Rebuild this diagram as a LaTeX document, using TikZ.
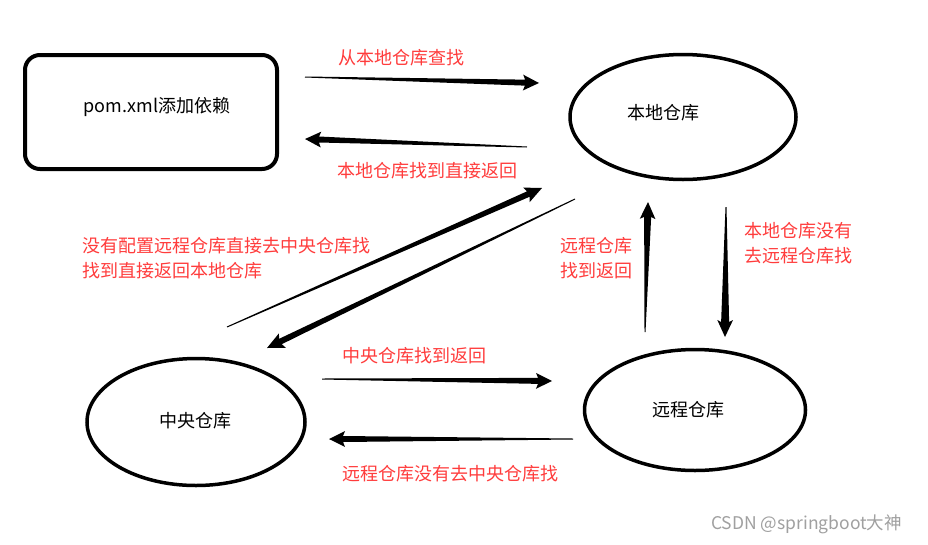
\documentclass[tikz,border=0pt]{standalone}
\usepackage{fontspec}
\setmainfont{Noto Sans CJK SC}
\usetikzlibrary{shapes.geometric,calc}
\definecolor{lblred}{RGB}{255,60,60}
\definecolor{wmgray}{RGB}{160,160,160}
\tikzset{
  store/.style={draw=black,line width=3.5pt,ellipse,inner sep=0pt},
  boxnode/.style={draw=black,line width=4pt,rounded corners=15pt,inner sep=0pt},
  blk/.style={font=\fontsize{18}{21}\selectfont,text=black,inner sep=0pt},
  red/.style={font=\fontsize{18}{25}\selectfont,text=lblred,inner sep=0pt,align=left},
  wm/.style={font=\fontsize{17.5}{20}\selectfont,text=wmgray,inner sep=0pt}
}
% tapered arrow: tail, tip, half shaft width at head, half wing width, head length
\newcommand\taper[5]{%
  \coordinate (tmpH) at ($(#2)!#5!(#1)$);
  \fill[black] ($(#1)!0.5pt!90:(#2)$) -- ($(tmpH)!#3!90:(#2)$) -- ($($(tmpH)!#4!90:(#2)$)!2pt!(#1)$)
    -- (#2) -- ($($(tmpH)!#4!-90:(#2)$)!2pt!(#1)$) -- ($(tmpH)!#3!-90:(#2)$) -- ($(#1)!0.5pt!-90:(#2)$) -- cycle;}
\begin{document}
\begin{tikzpicture}[x=1pt,y=-1pt]
\useasboundingbox[fill=white] (0,0) rectangle (928,544);
% nodes
\node[boxnode,minimum width=252pt,minimum height=114pt] (pom) at (151,112) {};
\node[blk] (pomt) at (157,107) {pom.xml添加依赖};
\node[store,minimum width=226pt,minimum height=125pt] (local) at (683,117) {};
\node[blk] (localt) at (663,113) {本地仓库};
\node[store,minimum width=218pt,minimum height=127pt] (central) at (196,422) {};
\node[blk] (centralt) at (195,421) {中央仓库};
\node[store,minimum width=221pt,minimum height=121pt] (remote) at (695,410) {};
\node[blk] (remotet) at (688,410) {远程仓库};
% arrow ends
\coordinate (a1s) at (305,77);  \coordinate (a1e) at (539,83);
\coordinate (a2s) at (527,147); \coordinate (a2e) at (305,139);
\coordinate (a3s) at (227,327); \coordinate (a3e) at (542,188);
\coordinate (a4s) at (575,199); \coordinate (a4e) at (267,348);
\coordinate (a5s) at (645,332); \coordinate (a5e) at (648,202);
\coordinate (a6s) at (726,207); \coordinate (a6e) at (725,337);
\coordinate (a7s) at (322,379); \coordinate (a7e) at (552,381);
\coordinate (a8s) at (573,439); \coordinate (a8e) at (329,439);
\taper{a1s}{a1e}{3pt}{8pt}{14pt}
\taper{a2s}{a2e}{3pt}{8pt}{14pt}
\taper{a3s}{a3e}{3pt}{8pt}{15pt}
\taper{a4s}{a4e}{3pt}{8pt}{15pt}
\taper{a5s}{a5e}{3.5pt}{8pt}{15pt}
\taper{a6s}{a6e}{4pt}{8pt}{15pt}
\taper{a7s}{a7e}{3pt}{8pt}{14pt}
\taper{a8s}{a8e}{3pt}{8pt}{14pt}
% labels
\node[red,anchor=west] (l1) at (338,58) {从本地仓库查找};
\node[red,anchor=west] (l2) at (337,171) {本地仓库找到直接返回};
\node[red,anchor=west] (l3) at (82,258) {没有配置远程仓库直接去中央仓库找\\找到直接返回本地仓库};
\node[red,anchor=west] (l4) at (560,258) {远程仓库\\找到返回};
\node[red,anchor=west] (l5) at (744,243) {本地仓库没有\\去远程仓库找};
\node[red,anchor=west] (l6) at (342,356) {中央仓库找到返回};
\node[red,anchor=west] (l7) at (342,474) {远程仓库没有去中央仓库找};
\node[wm,anchor=west] (wmk) at (711,524) {CSDN @springboot大神};
\end{tikzpicture}
\end{document}
